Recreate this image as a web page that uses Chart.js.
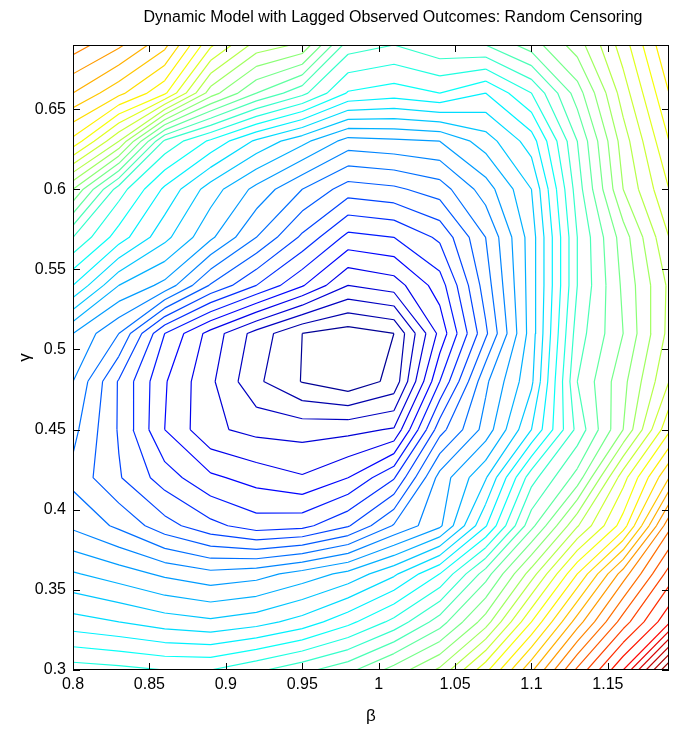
<!DOCTYPE html>
<html>
<head>
<meta charset="utf-8">
<script src="https://cdn.jsdelivr.net/npm/chart.js@4.4.1/dist/chart.umd.min.js"></script>
<style>
  html, body { margin: 0; padding: 0; background: #fff; }
  #wrap { width: 681px; height: 732px; }
</style>
</head>
<body>
<div id="wrap"><canvas id="contour"></canvas></div>
<script>
// grid of the objective surface (beta across, gamma up)
let betas  = [0.80, 0.83, 0.86, 0.89, 0.92, 0.95, 0.98, 1.01, 1.04, 1.07, 1.10, 1.13, 1.16, 1.19];
let gammas = [0.30, 0.33, 0.36, 0.39, 0.42, 0.45, 0.48, 0.51, 0.54, 0.57, 0.60, 0.63, 0.66, 0.69];

// one row per gamma value (in contour-level units)
let z030 = [19.5, 19.3, 19.0, 19.0, 19.8, 20.7, 21.7, 23.4, 25.2, 28.7, 32.8, 37.2, 41.0, 47.0];
let z033 = [16.4, 16.0, 15.5, 15.2, 15.6, 16.4, 17.7, 19.3, 21.5, 24.5, 29.0, 33.5, 37.5, 40.8];
let z036 = [14.1, 13.5, 12.8, 12.3, 12.6, 13.4, 14.3, 15.8, 18.0, 21.5, 25.5, 30.0, 34.5, 38.4];
let z039 = [11.8, 10.8, 9.4, 8.3, 7.5, 7.7, 8.9, 11.1, 12.8, 16.9, 21.7, 25.9, 29.5, 35.7];
let z042 = [10.7, 9.1, 7.5, 6.2, 5.6, 5.1, 6.0, 7.9, 12.4, 14.9, 19.6, 22.4, 27.6, 32.0];
let z045 = [11.3, 8.9, 6.0, 4.2, 3.7, 3.6, 3.7, 4.1, 9.6, 12.4, 16.0, 20.3, 24.0, 28.8];
let z048 = [12.0, 8.9, 6.1, 4.2, 2.2, 0.95, 0.3, 1.3, 7.0, 11.8, 14.8, 21.0, 23.7, 27.0];
let z051 = [13.0, 11.0, 7.0, 4.6, 2.6, 1.0, 0.5, 1.0, 5.3, 9.8, 14.5, 20.5, 23.0, 26.3];
let z054 = [17.0, 14.0, 12.7, 9.9, 8.0, 6.1, 4.0, 4.5, 6.5, 10.5, 14.5, 20.0, 23.2, 26.2];
let z057 = [20.0, 17.5, 15.3, 13.2, 11.0, 8.8, 6.7, 7.0, 8.2, 11.0, 14.5, 20.0, 23.5, 27.0];
let z060 = [24.0, 19.5, 16.8, 14.5, 12.7, 11.0, 9.5, 9.8, 10.5, 12.5, 15.0, 20.5, 25.0, 28.0];
let z063 = [29.7, 26.0, 19.8, 17.8, 15.8, 14.3, 12.6, 12.8, 13.0, 14.5, 16.5, 21.0, 25.5, 29.0];
let z066 = [33.0, 31.3, 29.2, 24.5, 22.0, 20.3, 17.9, 17.5, 18.0, 17.0, 19.0, 22.5, 26.5, 30.0];
let z069 = [35.5, 34.2, 32.3, 28.2, 25.6, 24.8, 20.5, 20.0, 20.8, 21.0, 22.5, 24.5, 27.5, 31.0];
let zRows = [z030, z033, z036, z039, z042, z045, z048, z051, z054, z057, z060, z063, z066, z069];

let levels = [1, 2, 3, 4, 5, 6, 7, 8, 9, 10, 11, 12, 13, 14, 15, 16, 17, 18, 19, 20, 21, 22, 23,
              24, 25, 26, 27, 28, 29, 30, 31, 32, 33, 34, 35, 36, 37, 38, 39, 40, 41, 42, 43, 44, 45, 46];

let betaTicks  = [0.8, 0.85, 0.9, 0.95, 1, 1.05, 1.1, 1.15];
let gammaTicks = [0.3, 0.35, 0.4, 0.45, 0.5, 0.55, 0.6, 0.65];

let chartTitle = 'Dynamic Model with Lagged Observed Outcomes: Random Censoring';

let zMin = 0, zMax = 47;

// matlab style jet colour map
function jet(t) {
    let c = v => Math.round(255 * Math.max(0, Math.min(1, v)));
    let r = c(1.5 - Math.abs(4 * t - 3));
    let g = c(1.5 - Math.abs(4 * t - 2));
    let b = c(1.5 - Math.abs(4 * t - 1));
    return `rgb(${r},${g},${b})`;
}

function crossing(a, b, xa, ya, xb, yb, lev) {
    if ((a < lev) === (b < lev)) return null;
    let t = (lev - a) / (b - a);
    return { x: xa + t * (xb - xa), y: ya + t * (yb - ya) };
}

// marching squares: one list of points per level, segments split by gaps
function contourLine(lev) {
    let pts = [];
    let push = (p, q) => { pts.push(p, q, { x: q.x, y: null }); };
    for (let j = 0; j < gammas.length - 1; j++) {
        for (let i = 0; i < betas.length - 1; i++) {
            let x0 = betas[i], x1 = betas[i + 1], y0 = gammas[j], y1 = gammas[j + 1];
            let bl = zRows[j][i], br = zRows[j][i + 1];
            let tl = zRows[j + 1][i], tr = zRows[j + 1][i + 1];
            let B = crossing(bl, br, x0, y0, x1, y0, lev);
            let R = crossing(br, tr, x1, y0, x1, y1, lev);
            let T = crossing(tl, tr, x0, y1, x1, y1, lev);
            let L = crossing(bl, tl, x0, y0, x0, y1, lev);
            let found = [B, R, T, L].filter(p => p);
            if (found.length === 2) {
                push(found[0], found[1]);
            } else if (found.length === 4) {
                let centre = (bl + br + tl + tr) / 4;
                if ((centre < lev) === (bl < lev)) {
                    push(B, R); push(T, L);
                } else {
                    push(L, B); push(R, T);
                }
            }
        }
    }
    return pts;
}

let datasets = levels.map(lev => ({
    data: contourLine(lev),
    borderColor: jet((lev - zMin) / (zMax - zMin)),
    borderWidth: 1.2,
    pointRadius: 0,
    fill: false,
    tension: 0,
    spanGaps: false
}));

const font = "'Liberation Sans', Arial, Helvetica, sans-serif";

// box round the axes with inward ticks on all four sides, title over the box
const boxPlugin = {
    id: 'box',
    afterDatasetsDraw(chart) {
        let { ctx, chartArea: a, scales } = chart;
        ctx.save();
        ctx.strokeStyle = '#000';
        ctx.lineWidth = 1;
        ctx.strokeRect(a.left + 0.5, a.top + 0.5, a.right - a.left - 1, a.bottom - a.top - 1);
        ctx.beginPath();
        betaTicks.forEach(v => {
            let px = Math.round(scales.x.getPixelForValue(v)) + 0.5;
            ctx.moveTo(px, a.bottom); ctx.lineTo(px, a.bottom - 7);
            ctx.moveTo(px, a.top); ctx.lineTo(px, a.top + 7);
        });
        gammaTicks.forEach(v => {
            let py = Math.round(scales.y.getPixelForValue(v)) + 0.5;
            ctx.moveTo(a.left, py); ctx.lineTo(a.left + 7, py);
            ctx.moveTo(a.right, py); ctx.lineTo(a.right - 7, py);
        });
        ctx.stroke();

        ctx.fillStyle = '#000';
        ctx.font = '16px ' + font;
        ctx.textAlign = 'center';
        ctx.textBaseline = 'middle';
        ctx.fillText(chartTitle, 393, 18);
        ctx.restore();
    }
};

new Chart(document.getElementById('contour'), {
    type: 'line',
    data: { datasets: datasets },
    options: {
        responsive: true,
        maintainAspectRatio: false,
        animation: false,
        layout: { padding: { left: 0, right: 12, top: 45, bottom: 0 } },
        plugins: {
            legend: { display: false },
            tooltip: { enabled: false },
            title: { display: false }
        },
        scales: {
            x: {
                type: 'linear',
                min: 0.8,
                max: 1.19,
                afterBuildTicks: s => { s.ticks = betaTicks.map(v => ({ value: v })); },
                afterFit: s => { s.height = 62; },
                grid: { display: false, drawTicks: false },
                border: { display: false },
                ticks: {
                    color: '#000',
                    padding: 5,
                    maxRotation: 0,
                    font: { family: font, size: 16 },
                    callback: v => String(v)
                },
                title: {
                    display: true,
                    text: 'β',
                    color: '#000',
                    font: { family: font, size: 17 },
                    padding: { top: 0, bottom: 5 }
                }
            },
            y: {
                type: 'linear',
                min: 0.3,
                max: 0.69,
                afterBuildTicks: s => { s.ticks = gammaTicks.map(v => ({ value: v })); },
                afterFit: s => { s.width = 73; },
                grid: { display: false, drawTicks: false },
                border: { display: false },
                ticks: {
                    color: '#000',
                    padding: 7,
                    font: { family: font, size: 16 },
                    callback: v => String(v)
                },
                title: {
                    display: true,
                    text: 'γ',
                    color: '#000',
                    font: { family: font, size: 17 },
                    padding: { top: 15, bottom: 0 }
                }
            }
        }
    },
    plugins: [boxPlugin]
});
</script>
</body>
</html>
